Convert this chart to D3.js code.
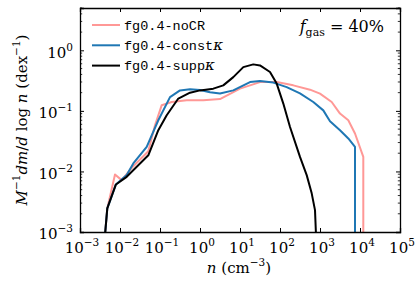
<!DOCTYPE html>
<html>
<head>
<meta charset="utf-8">
<script src="https://cdn.jsdelivr.net/npm/d3@7"></script>
<style>
  body { margin: 0; background: #fff; }
  svg { display: block; }
  .serif, .tick text { font-family: "DejaVu Serif", "Liberation Serif", serif !important; }
  .mono { font-family: "Liberation Mono", "DejaVu Sans Mono", monospace; }
</style>
</head>
<body>
<svg id="chart" width="416" height="289"></svg>
<script>
// density n (cm^-3) and mass fraction per dex
let noCR_n = [0.00422, 0.00481, 0.0075, 0.0110, 0.0215, 0.051, 0.075, 0.110, 0.196, 0.465, 1.21, 3.16, 10, 31.6, 82.7, 215, 562, 1000, 1961, 3162, 5099, 7499, 12090, 12100]
let noCR_v = [0.0009, 0.00245, 0.00893, 0.00719, 0.0122, 0.0216, 0.058, 0.1236, 0.140, 0.150, 0.150, 0.157, 0.233, 0.299, 0.299, 0.264, 0.224, 0.193, 0.140, 0.0903, 0.070, 0.0423, 0.0174, 0.0009]

let const_n = [0.00422, 0.00481, 0.0079, 0.0147, 0.0215, 0.0465, 0.0907, 0.178, 0.316, 0.562, 1, 1.78, 3.16, 6.8, 17.8, 31.6, 68, 147, 316, 680, 1209, 1778, 3162, 5099, 7499, 7500]
let const_v = [0.0009, 0.00245, 0.0061, 0.0087, 0.01355, 0.0254, 0.070, 0.169, 0.218, 0.227, 0.222, 0.203, 0.193, 0.218, 0.299, 0.311, 0.293, 0.247, 0.195, 0.140, 0.102, 0.0674, 0.0479, 0.035, 0.0254, 0.0009]

let supp_n = [0.00422, 0.00481, 0.0079, 0.0147, 0.051, 0.0907, 0.147, 0.287, 0.562, 1, 2.15, 3.82, 6.8, 12.1, 21.5, 31.6, 56.2, 82.7, 121, 178, 316, 465, 620, 750, 794]
let supp_v = [0.0009, 0.00245, 0.0061, 0.00815, 0.0185, 0.0479, 0.0848, 0.160, 0.200, 0.218, 0.233, 0.264, 0.361, 0.528, 0.586, 0.564, 0.438, 0.282, 0.132, 0.0543, 0.0174, 0.00869, 0.00435, 0.0023, 0.0009]

let series = [
  {name: "fg0.4-noCR", kappa: false, color: "#ff9896", n: noCR_n, v: noCR_v},
  {name: "fg0.4-const", kappa: true, color: "#1f77b4", n: const_n, v: const_v},
  {name: "fg0.4-supp", kappa: true, color: "#000000", n: supp_n, v: supp_v}
]

let x_exps = [-3, -2, -1, 0, 1, 2, 3, 4, 5]
let y_exps = [-3, -2, -1, 0]

let m_left = 80, m_right = 400, m_top = 8, m_bottom = 232
let svg = d3.select("#chart")

let x = d3.scaleLog().domain([1e-3, 1e5]).range([m_left, m_right])
let y = d3.scaleLog().domain([1e-3, 5]).range([m_bottom, m_top])

svg.append("clipPath").attr("id", "clip")
  .append("rect")
  .attr("x", m_left).attr("y", m_top)
  .attr("width", m_right - m_left).attr("height", m_bottom - m_top)

// curves
let line_gen = d3.line()
  .x(d => x(d[0]))
  .y(d => y(d[1]))

let plot = svg.append("g").attr("clip-path", "url(#clip)")
series.forEach(s => {
  plot.append("path")
    .datum(s.n.map((n, i) => [n, s.v[i]]))
    .attr("d", line_gen)
    .attr("fill", "none")
    .attr("stroke", s.color)
    .attr("stroke-width", 2)
    .attr("stroke-linejoin", "round")
})

// axes
let x_ticks = x_exps.map(e => Math.pow(10, e))
let y_ticks = y_exps.map(e => Math.pow(10, e))
let y_minor = []
for (let e = -3; e <= 0; e++) {
  for (let k = 2; k <= 9; k++) {
    let v = k * Math.pow(10, e)
    if (v <= 5) y_minor.push(v)
  }
}

function style_axis(g) {
  g.attr("font-family", null)
  g.select(".domain").attr("stroke", "#000").attr("stroke-width", 1.3)
  g.selectAll(".tick line").attr("stroke", "#000").attr("stroke-width", 1)
}

function sup_label(sel, exps) {
  sel.selectAll(".tick text").each(function(d, i) {
    let t = d3.select(this).text(null)
      .attr("class", "serif")
      .attr("font-size", 15).attr("fill", "#000")
    t.append("tspan").text("10")
    t.append("tspan").attr("font-size", 10.5).attr("dy", -7)
      .text(exps[i] < 0 ? "\u2212" + Math.abs(exps[i]) : exps[i])
  })
}

let gx = svg.append("g").attr("transform", `translate(0,${m_bottom})`)
  .call(d3.axisBottom(x).tickValues(x_ticks).tickSize(-4).tickPadding(6).tickFormat(d => d))
style_axis(gx)
sup_label(gx, x_exps)
gx.selectAll(".tick text").attr("dy", "1.0em").attr("dx", "0.1em")

let gy = svg.append("g").attr("transform", `translate(${m_left},0)`)
  .call(d3.axisLeft(y).tickValues(y_ticks).tickSize(-4).tickPadding(7).tickFormat(d => d))
style_axis(gy)
sup_label(gy, y_exps)
gy.selectAll(".tick text").attr("dy", "0.45em")

svg.append("g").attr("transform", `translate(0,${m_top})`)
  .call(d3.axisTop(x).tickValues(x_ticks).tickSize(-4).tickFormat(""))
  .call(style_axis)

svg.append("g").attr("transform", `translate(${m_right},0)`)
  .call(d3.axisRight(y).tickValues(y_ticks).tickSize(-4).tickFormat(""))
  .call(style_axis)

// minor ticks on y, both sides
let minor = svg.append("g")
y_minor.forEach(v => {
  minor.append("line")
    .attr("x1", m_left).attr("x2", m_left + 2.2)
    .attr("y1", y(v)).attr("y2", y(v))
    .attr("stroke", "#000").attr("stroke-width", 0.8)
  minor.append("line")
    .attr("x1", m_right).attr("x2", m_right - 2.2)
    .attr("y1", y(v)).attr("y2", y(v))
    .attr("stroke", "#000").attr("stroke-width", 0.8)
})

// axis titles
let xlab = svg.append("text")
  .attr("class", "serif")
  .attr("x", 239).attr("y", 273)
  .attr("text-anchor", "middle")
  .attr("font-size", 15)
xlab.append("tspan").attr("font-style", "italic").text("n")
xlab.append("tspan").text(" (cm")
xlab.append("tspan").attr("font-size", 10.5).attr("dy", -7).text("\u22123")
xlab.append("tspan").attr("dy", 7).text(")")

let ylab = svg.append("text")
  .attr("class", "serif")
  .attr("transform", "translate(27,120) rotate(-90)")
  .attr("text-anchor", "middle")
  .attr("font-size", 15)
ylab.append("tspan").attr("font-style", "italic").text("M")
ylab.append("tspan").attr("font-size", 10.5).attr("dy", -7).text("\u22121")
ylab.append("tspan").attr("dy", 7).attr("font-style", "italic").text("dm")
ylab.append("tspan").text("/")
ylab.append("tspan").attr("font-style", "italic").text("d")
ylab.append("tspan").text(" log ")
ylab.append("tspan").attr("font-style", "italic").text("n")
ylab.append("tspan").text(" (dex")
ylab.append("tspan").attr("font-size", 10.5).attr("dy", -7).text("\u22121")
ylab.append("tspan").attr("dy", 7).text(")")

// annotation
let ann = svg.append("text")
  .attr("class", "serif")
  .attr("x", 384).attr("y", 32)
  .attr("text-anchor", "end")
  .attr("font-size", 16)
ann.append("tspan").attr("font-style", "italic").text("f")
ann.append("tspan").attr("font-size", 11).attr("dy", 4).text("gas")
ann.append("tspan").attr("dy", -4).text(" = 40%")

// legend
let legend = svg.append("g")
series.forEach((s, i) => {
  let ly = 25 + i * 20.3
  legend.append("line")
    .attr("x1", 92).attr("x2", 120)
    .attr("y1", ly).attr("y2", ly)
    .attr("stroke", s.color).attr("stroke-width", 2)
  let t = legend.append("text")
    .attr("class", "mono")
    .attr("x", 124).attr("y", ly + 4.5)
    .attr("font-size", 13.5)
    .text(s.name)
  if (s.kappa) {
    t.append("tspan").attr("class", "serif").attr("font-style", "italic")
      .attr("font-size", 15).text("\u03ba")
  }
})
</script>
</body>
</html>
